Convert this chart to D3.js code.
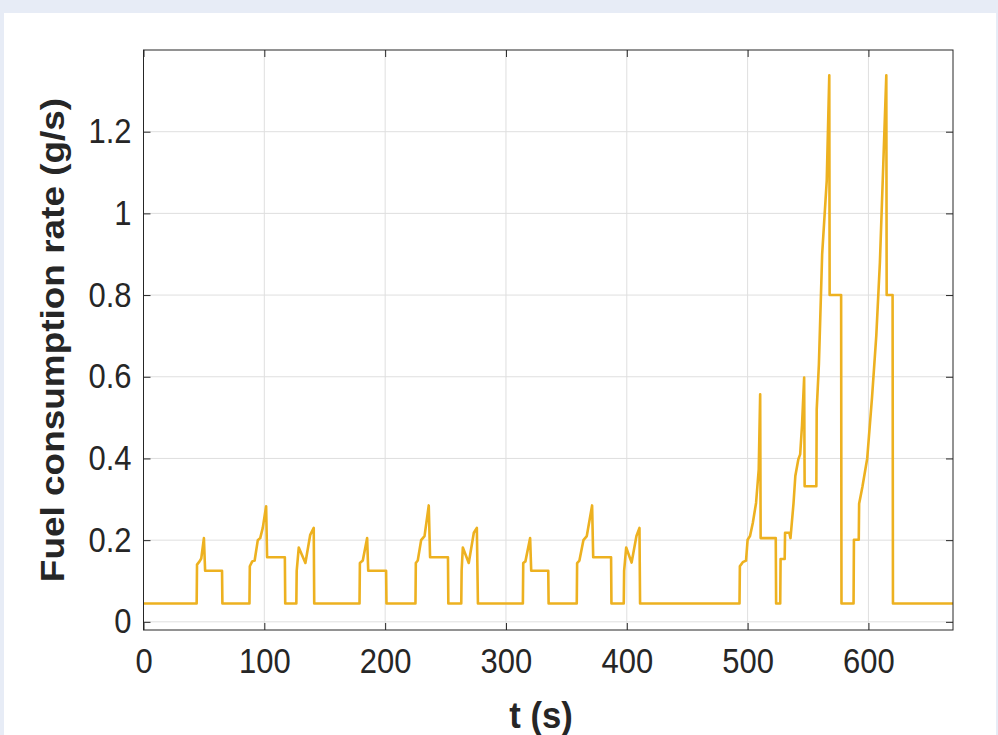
<!DOCTYPE html>
<html lang="en">
<head>
    <meta charset="UTF-8">
    <title>Fuel consumption rate</title>
    <script src="https://d3js.org/d3.v7.min.js"></script>
    <style>
        html, body { margin: 0; padding: 0; background: #e7ecf6; }
        svg { display: block; }
        text { font-family: Arial, "Liberation Sans", sans-serif; fill: #262626; }
    </style>
</head>
<body>
    <script>
        // Time (s) and fuel rate (g/s)
        const timeS = [
            0, 44, 44.3, 46.4, 47.8, 50, 51, 65, 65.3,
            87.7, 88, 90, 92, 94.6, 96.6, 98.7, 101.5, 102.3, 117, 117.3,
            126.5, 126.8, 128.5, 134, 138, 140.9, 141.3,
            178.8, 179.1, 181.5, 185.1, 186, 200.8, 201.1,
            225.1, 225.4, 227, 229.8, 232.6, 236.1, 237.2, 252, 252.3,
            263, 263.3, 264.3, 269.2, 273.4, 275.9, 276.8,
            314, 314.3, 316.1, 320, 320.9, 335, 335.3,
            358.6, 358.9, 360.8, 364.1, 366.9, 371.3, 372.2, 387, 387.3,
            397.5, 397.8, 399.5, 404, 408, 410.5, 411,
            493.3, 493.6, 496, 498.7, 500, 502, 504.3, 507, 509.2, 510.4, 510.8, 523.3, 523.6,
            527, 527.3, 530.7, 531, 534.5, 535.5, 538, 539.5, 542, 543.5, 545, 546.8, 547.2, 556.9,
            557.2, 559, 561.7, 565.5, 567.6, 567.9, 577.4, 577.7,
            587.7, 588, 592, 592.3, 595, 599, 603, 606.5, 609.5, 612.3, 614.8, 615.1, 620, 620.3,
            670
        ];
        const fuelRate = [
            0.045, 0.045, 0.14, 0.148, 0.155, 0.205, 0.125, 0.125, 0.045,
            0.045, 0.136, 0.148, 0.15, 0.2, 0.205, 0.23, 0.283, 0.158, 0.158, 0.045,
            0.045, 0.125, 0.182, 0.144, 0.213, 0.23, 0.045,
            0.045, 0.144, 0.15, 0.205, 0.125, 0.125, 0.045,
            0.045, 0.144, 0.15, 0.2, 0.21, 0.285, 0.158, 0.158, 0.045,
            0.045, 0.125, 0.182, 0.144, 0.218, 0.23, 0.045,
            0.045, 0.144, 0.148, 0.205, 0.125, 0.125, 0.045,
            0.045, 0.144, 0.15, 0.2, 0.21, 0.285, 0.158, 0.158, 0.045,
            0.045, 0.125, 0.182, 0.145, 0.21, 0.23, 0.045,
            0.045, 0.136, 0.146, 0.15, 0.201, 0.21, 0.242, 0.291, 0.373, 0.557, 0.205, 0.205, 0.045,
            0.045, 0.154, 0.154, 0.218, 0.218, 0.205, 0.29, 0.357, 0.398, 0.41, 0.48, 0.598, 0.332, 0.332,
            0.52, 0.63, 0.9, 1.08, 1.338, 0.8, 0.8, 0.045,
            0.045, 0.201, 0.201, 0.289, 0.33, 0.4, 0.55, 0.7, 0.88, 1.12, 1.338, 0.8, 0.8, 0.045,
            0.045
        ];
        const xTicks = [0, 100, 200, 300, 400, 500, 600];
        const yTicks = [0, 0.2, 0.4, 0.6, 0.8, 1, 1.2];

        const W = 998, H = 735;
        const plotL = 143.5, plotR = 953, plotT = 50, plotB = 630;
        const tickLen = 7;
        const stretch = 1.12; // text in the source image is a bit taller than wide

        const svg = d3.select("body").append("svg")
            .attr("width", W)
            .attr("height", H);

        // white figure panel
        svg.append("rect")
            .attr("x", 4).attr("y", 13)
            .attr("width", 992).attr("height", H - 13)
            .attr("fill", "#ffffff");

        const x = d3.scaleLinear().domain([0, 670]).range([plotL, plotR]);
        const y = d3.scaleLinear().domain([-0.02, 1.4]).range([plotB, plotT]);

        // grid
        svg.append("g")
            .selectAll("line")
            .data(xTicks.filter(d => d > 0))
            .join("line")
            .attr("x1", d => x(d)).attr("x2", d => x(d))
            .attr("y1", plotT).attr("y2", plotB)
            .attr("stroke", "#dfdfdf").attr("stroke-width", 1);
        svg.append("g")
            .selectAll("line")
            .data(yTicks)
            .join("line")
            .attr("x1", plotL).attr("x2", plotR)
            .attr("y1", d => y(d)).attr("y2", d => y(d))
            .attr("stroke", "#dfdfdf").attr("stroke-width", 1);

        // data line
        const pts = timeS.map((t, i) => [t, fuelRate[i]]);
        svg.append("path")
            .datum(pts)
            .attr("fill", "none")
            .attr("stroke", "#EDB120")
            .attr("stroke-width", 2.6)
            .attr("stroke-linejoin", "round")
            .attr("d", d3.line().x(d => x(d[0])).y(d => y(d[1])));

        // axes (box with inward ticks on all sides)
        svg.append("g")
            .attr("transform", `translate(0,${plotB})`)
            .call(d3.axisBottom(x).tickValues(xTicks).tickSizeInner(-tickLen).tickSizeOuter(0).tickPadding(16).tickFormat(d3.format("d")))
            .call(g => g.select(".domain").remove());
        svg.append("g")
            .attr("transform", `translate(0,${plotT})`)
            .call(d3.axisTop(x).tickValues(xTicks).tickSizeInner(-tickLen).tickSizeOuter(0).tickFormat(""))
            .call(g => g.select(".domain").remove());
        svg.append("g")
            .attr("transform", `translate(${plotL},0)`)
            .call(d3.axisLeft(y).tickValues(yTicks).tickSizeInner(-tickLen).tickSizeOuter(0).tickPadding(12).tickFormat(d => d3.format("~g")(d)))
            .call(g => g.select(".domain").remove());
        svg.append("g")
            .attr("transform", `translate(${plotR},0)`)
            .call(d3.axisRight(y).tickValues(yTicks).tickSizeInner(-tickLen).tickSizeOuter(0).tickFormat(""))
            .call(g => g.select(".domain").remove());

        svg.selectAll(".tick line").attr("stroke", "#262626");
        svg.selectAll(".tick text")
            .style("font-family", "Arial, 'Liberation Sans', sans-serif")
            .style("font-size", "31px")
            .attr("fill", "#262626")
            .attr("transform", `scale(1,${stretch})`);

        svg.append("rect")
            .attr("x", plotL).attr("y", plotT)
            .attr("width", plotR - plotL).attr("height", plotB - plotT)
            .attr("fill", "none")
            .attr("stroke", "#262626")
            .attr("stroke-width", 1);

        // axis labels
        svg.append("text")
            .attr("transform", `translate(541,728) scale(1.05,${stretch})`)
            .attr("text-anchor", "middle")
            .style("font-size", "33px")
            .style("font-weight", "bold")
            .text("t (s)");

        svg.append("text")
            .attr("transform", `translate(64,340) rotate(-90) scale(${stretch},1)`)
            .attr("text-anchor", "middle")
            .style("font-size", "33px")
            .style("font-weight", "bold")
            .text("Fuel consumption rate (g/s)");
    </script>
</body>
</html>
